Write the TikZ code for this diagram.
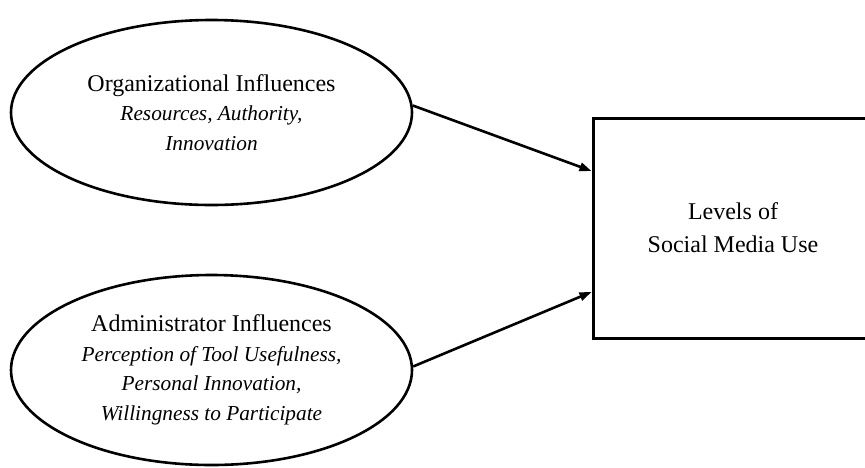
\documentclass[tikz,border=0pt]{standalone}
\usepackage{fontspec}
\setmainfont{Liberation Serif}
\usetikzlibrary{shapes.geometric,arrows.meta}

% smaller italic lines for the factor details
\newcommand{\detail}[1]{{\fontsize{21.3}{29.5}\selectfont\itshape #1}}

\tikzset{
  factor/.style={ellipse, draw, line width=2.6pt, inner ysep=0pt, inner xsep=-30pt,
    minimum width=401pt, minimum height=#1, align=center,
    font=\fontsize{24}{29.5}\selectfont},
  outcome/.style={rectangle, draw, line width=3pt, inner sep=0pt,
    minimum width=280pt, minimum height=220pt, align=center,
    font=\fontsize{24}{33}\selectfont},
  link/.style={line width=2.6pt, -{Triangle[length=12pt,width=8.5pt]}}
}

\begin{document}
\begin{tikzpicture}[x=1pt,y=-1pt]
  \useasboundingbox (0,0) rectangle (865,467);

  % antecedent factors
  \node[factor=185pt] (org) at (211.5,112.5)
    {Organizational Influences\\ \detail{Resources, Authority,}\\ \detail{Innovation}};
  \node[factor=190pt] (adm) at (211.5,370)
    {Administrator Influences\\ \detail{Perception of Tool Usefulness,}\\
     \detail{Personal Innovation,}\\ \detail{Willingness to Participate}};

  % outcome box (runs past the right edge); text set slightly low
  \node[outcome] (use) at (733,228) {\raisebox{-3pt}{Levels of}\\ \raisebox{-3pt}{Social Media Use}};

  % arrow end points on the left side of the box
  \coordinate (inA) at ([yshift=57pt]use.west);
  \coordinate (inB) at ([yshift=-64pt]use.west);

  \draw[link] (org.2) -- (inA);
  \draw[link] (adm.1.4) -- (inB);
\end{tikzpicture}
\end{document}
